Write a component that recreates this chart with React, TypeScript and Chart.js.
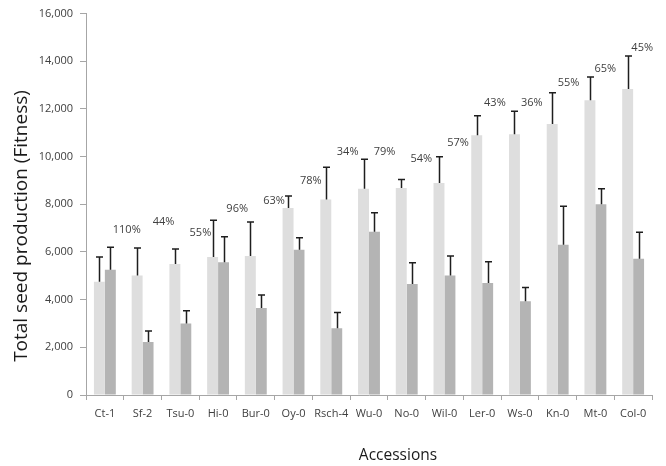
import React, { useEffect, useRef } from "react";
import { Chart, registerables } from "chart.js";

Chart.register(...registerables);

const accessions = ["Ct-1", "Sf-2", "Tsu-0", "Hi-0", "Bur-0", "Oy-0", "Rsch-4", "Wu-0", "No-0", "Wil-0", "Ler-0", "Ws-0", "Kn-0", "Mt-0", "Col-0"];
const controlValues = [4750, 5010, 5500, 5790, 5830, 7850, 8200, 8650, 8680, 8890, 10900, 10940, 11370, 12360, 12840];
const controlErrors = [1040, 1160, 630, 1540, 1430, 500, 1350, 1240, 360, 1110, 810, 960, 1310, 980, 1380];
const treatedValues = [5250, 2220, 3000, 5570, 3650, 6090, 2800, 6850, 4660, 5010, 4700, 3930, 6300, 8000, 5720];
const treatedErrors = [950, 470, 530, 1070, 540, 510, 660, 800, 890, 820, 890, 580, 1620, 650, 1110];
const ratioLabels = ["110%", "44%", "55%", "96%", "63%", "78%", "34%", "79%", "54%", "57%", "43%", "36%", "55%", "65%", "45%"];
const ratioLabelLevels = [6940, 7280, 6820, 7810, 8140, 8970, 10210, 10210, 9890, 10580, 12250, 12250, 13100, 13680, 14580];
const yTicks = [0, 2000, 4000, 6000, 8000, 10000, 12000, 14000, 16000];

const FONT = "'Open Sans', 'DejaVu Sans', sans-serif";

const errorBarPlugin = {
  id: "errorBars",
  afterDatasetsDraw(chart: any) {
    const ctx = chart.ctx;
    const yScale = chart.scales.y;
    const errs = [controlErrors, treatedErrors];
    ctx.save();
    ctx.strokeStyle = "#1e1e1e";
    ctx.lineWidth = 1.5;
    chart.data.datasets.forEach((ds: any, di: number) => {
      const meta = chart.getDatasetMeta(di);
      meta.data.forEach((el: any, i: number) => {
        const top = yScale.getPixelForValue(ds.data[i] + errs[di][i]);
        const x = Math.round(el.x) + 0.5;
        ctx.beginPath();
        ctx.moveTo(x, el.y);
        ctx.lineTo(x, top);
        ctx.moveTo(x - 3.5, top);
        ctx.lineTo(x + 3.5, top);
        ctx.stroke();
      });
    });
    ctx.restore();
  },
};

const labelPlugin = {
  id: "ratioLabels",
  afterDraw(chart: any) {
    const ctx = chart.ctx;
    const xScale = chart.scales.x;
    const yScale = chart.scales.y;
    const n = accessions.length;
    const cw = (chart.chartArea.right - chart.chartArea.left) / n;
    ctx.save();
    ctx.font = `11px ${FONT}`;
    ctx.fillStyle = "#404040";
    ctx.textAlign = "center";
    ctx.textBaseline = "middle";
    ratioLabels.forEach((t, i) => {
      const x = xScale.getPixelForValue(i) + cw * (0.58 - 0.34 * i / (n - 1));
      const y = yScale.getPixelForValue(ratioLabelLevels[i]);
      ctx.fillText(t, x, y);
    });
    // axis titles
    ctx.fillStyle = "#1a1a1a";
    ctx.font = `15.5px ${FONT}`;
    ctx.fillText("Accessions", 398, 456);
    ctx.translate(22, 226);
    ctx.rotate(-Math.PI / 2);
    ctx.font = `19px ${FONT}`;
    ctx.fillText("Total seed production (Fitness)", 0, 0);
    ctx.restore();
  },
};

export default function App() {
  const ref = useRef<HTMLCanvasElement | null>(null);
  useEffect(() => {
    if (!ref.current) return;
    const chart = new Chart(ref.current, {
      type: "bar",
      data: {
        labels: accessions,
        datasets: [
          { label: "Control", data: controlValues, backgroundColor: "#dedede", categoryPercentage: 0.58, barPercentage: 1 },
          { label: "Treatment", data: treatedValues, backgroundColor: "#b4b4b4", categoryPercentage: 0.58, barPercentage: 1 },
        ],
      },
      options: {
        animation: false,
        responsive: false,
        layout: { padding: { top: 8, right: 14, left: 0, bottom: 0 } },
        plugins: { legend: { display: false }, tooltip: { enabled: false } },
        scales: {
          x: {
            grid: { drawOnChartArea: false, drawTicks: true, tickLength: 5, color: "#a6a6a6", offset: true },
            border: { display: true, color: "#a6a6a6", width: 1 },
            ticks: { font: { family: FONT, size: 11 }, color: "#404040", padding: 7, maxRotation: 0, autoSkip: false },
            afterFit: (s: any) => { s.height = 71; },
          },
          y: {
            min: 0,
            max: 16000,
            afterBuildTicks: (s: any) => { s.ticks = yTicks.map((v) => ({ value: v })); },
            grid: { drawOnChartArea: false, drawTicks: true, tickLength: 6, color: "#a6a6a6" },
            border: { display: true, color: "#a6a6a6", width: 1 },
            ticks: {
              font: { family: FONT, size: 11 },
              color: "#404040",
              padding: 7,
              callback: (v: any) => Number(v).toLocaleString("en-US"),
            },
            afterFit: (s: any) => { s.width = 86; },
          },
        },
      },
      plugins: [errorBarPlugin, labelPlugin],
    });
    return () => chart.destroy();
  }, []);
  return (
    <div style={{ position: "fixed", left: 0, top: 0, width: 666, height: 466, background: "#fff" }}>
      <canvas ref={ref} width={666} height={466} style={{ width: 666, height: 466 }} />
    </div>
  );
}
